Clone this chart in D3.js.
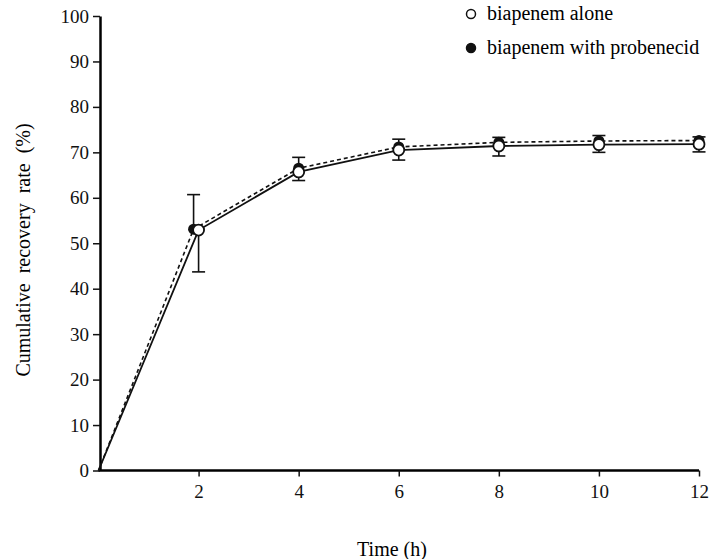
<!DOCTYPE html>
<html>
<head>
<meta charset="utf-8">
<script src="https://cdn.jsdelivr.net/npm/d3@7"></script>
<style>
  body { margin: 0; background: #fff; }
  svg { display: block; font-family: "Liberation Serif", "DejaVu Serif", serif; }
</style>
</head>
<body>
<svg id="chart"></svg>
<script>
// data
const timeAlone = [0, 2, 4, 6, 8, 10, 12]
const timeProb = [0, 1.9, 4, 6, 8, 10, 12]
const alone = [0, 52.9, 65.7, 70.5, 71.4, 71.7, 71.8]
const aloneSdDown = [0, 9.2, 1.9, 2.2, 2.2, 1.7, 1.7]
const probenecid = [0, 53.1, 66.5, 71.2, 72.2, 72.5, 72.6]
const probSdUp = [0, 7.6, 2.4, 1.7, 1.1, 1.2, 0.8]
const xTicks = [2, 4, 6, 8, 10, 12]
const yTicks = d3.range(0, 101, 10)

const W = 716, H = 559
const svg = d3.select('#chart').attr('width', W).attr('height', H)

const x = d3.scaleLinear().domain([0, 12]).range([98.5, 699])
const y = d3.scaleLinear().domain([0, 100]).range([470.5, 16])

// axes
const xAxis = d3.axisBottom(x).tickValues(xTicks).tickSize(6).tickPadding(8).tickSizeOuter(0)
const yAxis = d3.axisLeft(y).tickValues(yTicks).tickSize(7).tickPadding(4).tickSizeOuter(0)

const gx = svg.append('g').attr('transform', `translate(0,${y(0)})`).call(xAxis)
gx.select('.domain').attr('d', `M${x(0)},0H${x(12)}`).attr('stroke-width', 2.5)
const gy = svg.append('g').attr('transform', `translate(${x(0) + 1.5},0)`).call(yAxis)
gy.select('.domain').attr('stroke-width', 2.5)

svg.selectAll('.tick line').attr('stroke', '#111').attr('stroke-width', 1.5)
svg.selectAll('.tick text').attr('fill', '#111').style('font-size', '19px')
  .style('font-family', '"Liberation Serif", serif')

// axis titles
svg.append('text')
  .attr('x', 392).attr('y', 556)
  .attr('text-anchor', 'middle')
  .style('font-size', '20px')
  .text('Time (h)')

svg.append('text')
  .attr('transform', `translate(30,250) rotate(-90)`)
  .attr('text-anchor', 'middle')
  .style('font-size', '20px')
  .style('word-spacing', '5px')
  .text('Cumulative recovery rate (%)')

const line = d3.line().x(d => x(d[0])).y(d => y(d[1]))
const probPts = timeProb.map((t, i) => [t, probenecid[i]])
const alonePts = timeAlone.map((t, i) => [t, alone[i]])

// error bars: probenecid up, alone down
const cap = 6.5
function errBars(pts, sd, dir) {
  const g = svg.append('g').attr('stroke', '#111').attr('stroke-width', 1.6)
  pts.forEach((p, i) => {
    if (i === 0) return
    const y0 = y(p[1]), y1 = y(p[1] + dir * sd[i]), cx = x(p[0])
    g.append('line').attr('x1', cx).attr('x2', cx).attr('y1', y0).attr('y2', y1)
    g.append('line').attr('x1', cx - cap).attr('x2', cx + cap).attr('y1', y1).attr('y2', y1)
  })
}
errBars(probPts, probSdUp, 1)
errBars(alonePts, aloneSdDown, -1)

// lines
svg.append('path').datum(probPts).attr('d', line)
  .attr('fill', 'none').attr('stroke', '#111').attr('stroke-width', 1.6)
  .attr('stroke-dasharray', '4,3')
svg.append('path').datum(alonePts).attr('d', line)
  .attr('fill', 'none').attr('stroke', '#111').attr('stroke-width', 1.8)

// markers
svg.append('g').selectAll('circle').data(probPts.slice(1)).join('circle')
  .attr('cx', d => x(d[0])).attr('cy', d => y(d[1])).attr('r', 5.5)
  .attr('fill', '#111')
svg.append('g').selectAll('circle').data(alonePts.slice(1)).join('circle')
  .attr('cx', d => x(d[0])).attr('cy', d => y(d[1])).attr('r', 5.5)
  .attr('fill', '#fff').attr('stroke', '#111').attr('stroke-width', 1.8)

// legend
const legend = [
  { label: 'biapenem alone', fill: '#fff' },
  { label: 'biapenem with probenecid', fill: '#111' }
]
const lg = svg.append('g').selectAll('g').data(legend).join('g')
  .attr('transform', (d, i) => `translate(471,${14 + i * 34})`)
lg.append('circle').attr('r', 4.5).attr('fill', d => d.fill)
  .attr('stroke', '#111').attr('stroke-width', 1.5)
lg.append('text').attr('x', 16).attr('y', 6)
  .style('font-size', '20px')
  .text(d => d.label)
</script>
</body>
</html>
